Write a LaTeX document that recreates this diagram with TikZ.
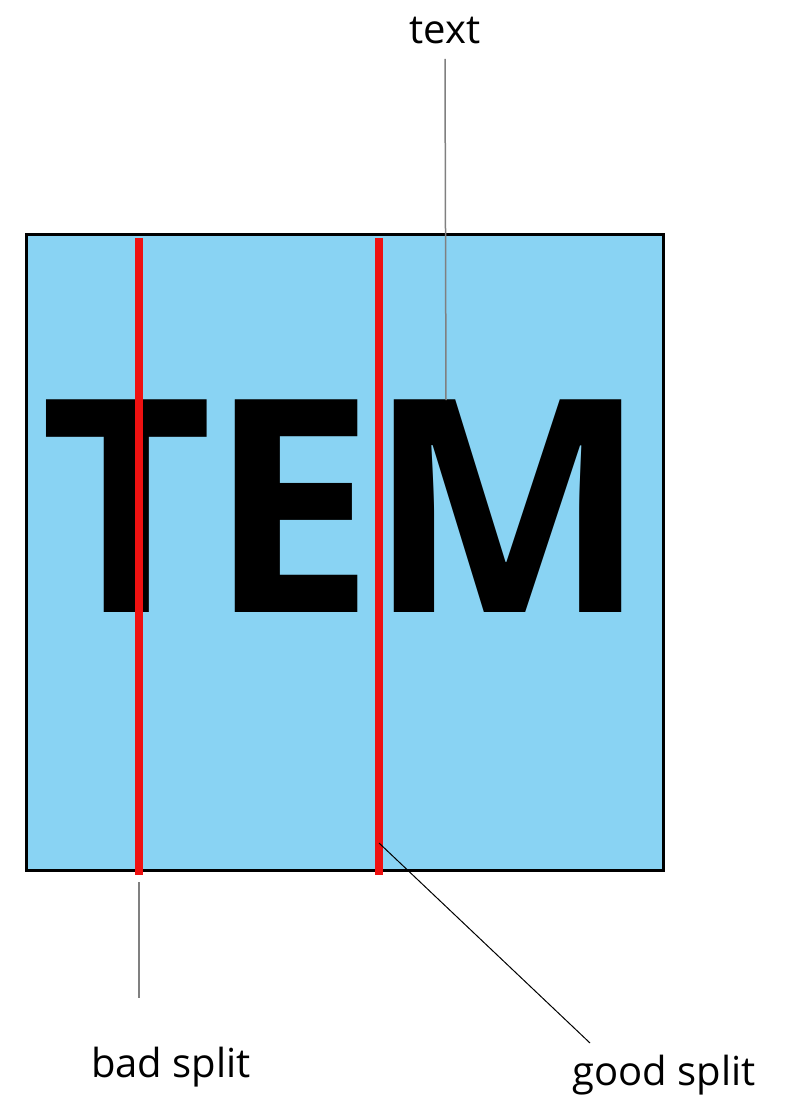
\documentclass[tikz,border=0pt]{standalone}
\usepackage{fontspec}
\setmainfont{Open Sans}
\usetikzlibrary{positioning}
\definecolor{skyfill}{RGB}{137,211,243}
\definecolor{splitred}{RGB}{238,17,17}

\begin{document}
\begin{tikzpicture}[x=0.5pt, y=-0.5pt,
  caption/.style={font=\fontsize{20}{24}\selectfont, inner sep=0pt, anchor=base},
  split/.style={draw=splitred, line width=4pt},
  pointer/.style={draw=gray, line width=0.75pt}
]
\useasboundingbox (0,0) rectangle (785,1099);
\draw[fill=skyfill, line width=1.5pt] (26,234) rectangle (663,870);
\node[font=\bfseries\fontsize{149}{150}\selectfont, inner sep=0pt, anchor=base west] (tem) at (40,612) {T\kern-2.5pt E\kern-3.5pt M};
\draw[split] (139,238) -- (139,875);
\draw[split] (379,238) -- (379,875);
% labels
\node[caption] (txt) at (445,43) {text};
\node[caption] (bad) at (171,1077) {bad split};
\node[caption] (good) at (664,1085) {good split};
\coordinate (mtop) at (446,400);
\coordinate (badfoot) at (139,882);
\coordinate (badtip) at (139,998);
\coordinate (goodfoot) at (379,843);
\coordinate (goodtip) at (590,1043);
\draw[pointer] ([yshift=-7.5pt]txt.south) -- (mtop);
\draw[pointer] (badfoot) -- (badtip);
\draw[line width=0.5pt] (goodfoot) -- (goodtip);
\end{tikzpicture}
\end{document}
